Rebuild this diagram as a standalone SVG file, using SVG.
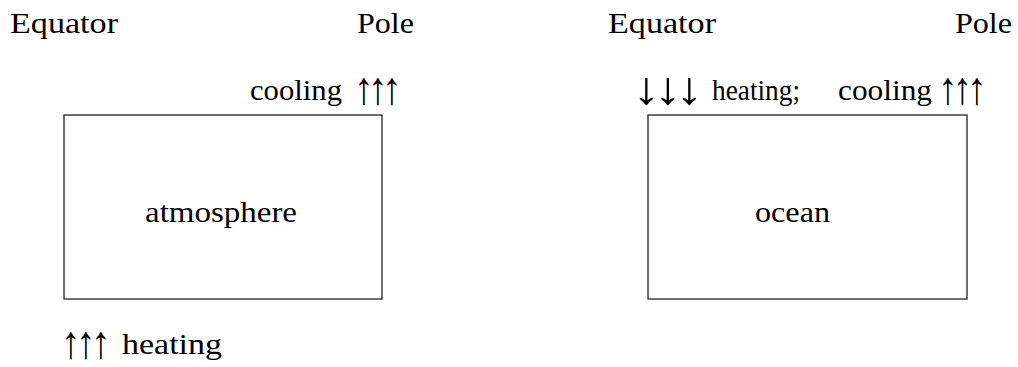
<svg xmlns="http://www.w3.org/2000/svg" width="1018" height="367" viewBox="0 0 1018 367">
<style>
text{font-family:"Liberation Serif","DejaVu Serif",serif;font-size:30px;fill:#000}
.arr{font-size:46px;text-anchor:middle}
.box{fill:none;stroke:#222;stroke-width:1.3}
</style>
<rect width="1018" height="367" fill="#fff"/>
<g id="labels">
<text x="10" y="33" textLength="108" lengthAdjust="spacingAndGlyphs">Equator</text>
<text x="357" y="33" textLength="57" lengthAdjust="spacingAndGlyphs">Pole</text>
<text x="608" y="33" textLength="108" lengthAdjust="spacingAndGlyphs">Equator</text>
<text x="955" y="33" textLength="57" lengthAdjust="spacingAndGlyphs">Pole</text>
</g>
<g id="atmosphere">
<rect class="box" x="64" y="115" width="318" height="184"/>
<text x="145" y="222" textLength="152" lengthAdjust="spacingAndGlyphs">atmosphere</text>
<text x="250" y="100" textLength="92" lengthAdjust="spacingAndGlyphs">cooling</text>
<text class="arr" transform="translate(0,104) scale(0.85,1)" x="428.2 444.7 461.2" y="0">↑↑↑</text>
<text class="arr" transform="translate(0,358) scale(0.85,1)" x="83.5 101.2 118.8" y="0">↑↑↑</text>
<text x="122" y="354" textLength="100" lengthAdjust="spacingAndGlyphs">heating</text>
</g>
<g id="ocean">
<rect class="box" x="648" y="115" width="319" height="184"/>
<text x="755" y="222" textLength="75" lengthAdjust="spacingAndGlyphs">ocean</text>
<text class="arr" transform="translate(0,104) scale(1.2,1)" x="538.3 556.3 574.2" y="0">↓↓↓</text>
<text x="712" y="100" textLength="88" lengthAdjust="spacingAndGlyphs">heating;</text>
<text x="838" y="100" textLength="94" lengthAdjust="spacingAndGlyphs">cooling</text>
<text class="arr" transform="translate(0,104) scale(0.85,1)" x="1115.3 1132.4 1149.4" y="0">↑↑↑</text>
</g>
<g id="connectors"></g>
</svg>
